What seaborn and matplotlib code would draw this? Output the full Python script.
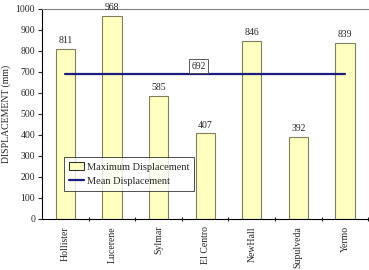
import numpy as np
import pandas as pd
import matplotlib
matplotlib.use('Agg')
import matplotlib.pyplot as plt
import seaborn as sns
from matplotlib.patches import Patch
from matplotlib.lines import Line2D

stations = ['Hollister', 'Lucerene', 'Sylmar', 'El Centro', 'NewHall', 'Supulveda', 'Yermo']
max_disp = [811, 968, 585, 407, 846, 392, 839]
mean_disp = 692

sns.set_style('white')
plt.rcParams['font.family'] = ['Liberation Serif', 'DejaVu Serif']

df = pd.DataFrame({'station': stations, 'disp': max_disp})

fig = plt.figure(figsize=(3.69, 2.70), dpi=100)
ax = fig.add_axes([0.114, 0.189, 0.884, 0.778])

bar_color = '#ffffc0'
sns.barplot(data=df, x='station', y='disp', color=bar_color, saturation=1,
            width=0.41, edgecolor='#808060', linewidth=0.8, ax=ax)
ax.plot(np.arange(len(stations)), [mean_disp] * len(stations), color='#1c1c80', lw=1.6)

for i, v in enumerate(max_disp):
    ax.text(i, v + 18, str(v), ha='center', va='bottom', fontsize=7)
ax.text(2.86, mean_disp + 14, str(mean_disp), ha='center', va='bottom', fontsize=7,
        bbox=dict(boxstyle='square,pad=0.25', fc='white', ec='#404040', lw=0.6))

ax.set_xlim(-0.5, len(stations) - 0.5)
ax.set_ylim(0, 1000)
ax.set_yticks(range(0, 1001, 100))
ax.set_xticks(np.arange(len(stations)) + 0.5, minor=True)
ax.set_xticks(np.arange(len(stations)))
ax.set_xticklabels(stations, rotation=90, fontsize=7)
ax.tick_params(axis='y', labelsize=7, length=3, width=0.8, direction='out', left=True, pad=2)
ax.tick_params(axis='x', which='major', length=0, pad=5)
ax.tick_params(axis='x', which='minor', length=3, width=0.8, direction='inout', bottom=True)
ax.set_xlabel('')
ax.set_ylabel('DISPLACEMENT (mm)', fontsize=7, labelpad=3)

for s in ['left', 'bottom']:
    ax.spines[s].set_color('black')
    ax.spines[s].set_linewidth(0.8)
ax.spines['top'].set_color('#808080')
ax.spines['top'].set_linewidth(0.8)
ax.spines['right'].set_visible(False)

handles = [Patch(facecolor=bar_color, edgecolor='black', lw=0.6),
           Line2D([0], [0], color='#1c1c80', lw=1.6)]
leg = ax.legend(handles, ['Maximum Displacement', 'Mean Displacement'],
                loc='upper left', bbox_to_anchor=(0.068, 0.295), fontsize=7.5,
                frameon=True, fancybox=False, handlelength=1.35, handletextpad=0.3,
                borderpad=0.5, labelspacing=0.5, borderaxespad=0)
leg.get_frame().set_edgecolor('black')
leg.get_frame().set_linewidth(0.6)

fig.savefig('out.png', dpi=100)
